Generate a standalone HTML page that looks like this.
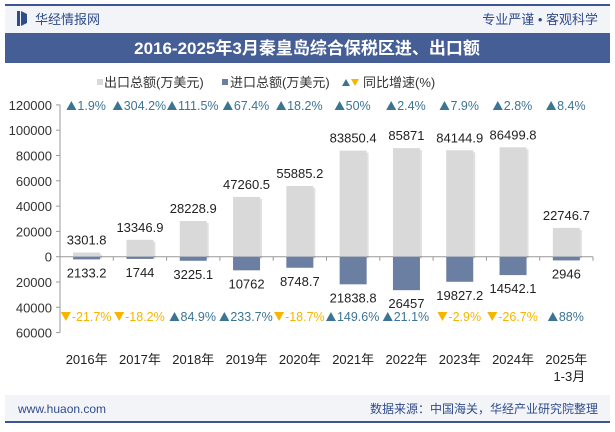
<!DOCTYPE html>
<html><head><meta charset="utf-8"><style>
body{margin:0;width:615px;height:427px;overflow:hidden;background:#fff;font-family:"Liberation Sans","Noto Sans CJK SC",sans-serif}
svg text{font-family:"Liberation Sans","Noto Sans CJK SC",sans-serif}
</style></head><body>
<svg width="615" height="427">
<rect x="5" y="5" width="605" height="28" fill="#f3f4f8"/>
<line x1="5" y1="5" x2="610" y2="5" stroke="#3b5594" stroke-width="2"/>
<rect x="17" y="11" width="3" height="15" fill="#2f4c8c"/>
<path d="M21 11 L27 14 L27 23 L21 26Z" fill="#2f4c8c"/>
<text x="35" y="24" font-size="13" fill="#2f4c8c">华经情报网</text>
<text x="598" y="24" font-size="13" fill="#2f4c8c" text-anchor="end">专业严谨 • 客观科学</text>
<rect x="5" y="33" width="605" height="30" fill="#455e95"/>
<text x="307" y="54" font-size="17" font-weight="bold" fill="#fff" text-anchor="middle" font-family="Liberation Serif,Noto Serif CJK SC,serif">2016-2025年3月秦皇岛综合保税区进、出口额</text>
<g font-size="13" fill="#333">
<rect x="97" y="79" width="6" height="6" fill="#d9d9d9"/>
<text x="104" y="87">出口总额(万美元)</text>
<rect x="222" y="79" width="6" height="6" fill="#6b7fa3"/>
<text x="230" y="87">进口总额(万美元)</text>
<path d="M342 86 L346 79 L350 86Z" fill="#3c7494"/>
<path d="M351 79 L359 79 L355 86Z" fill="#f7b500"/>
<text x="363" y="87">同比增速(%)</text>
</g>
<g id="plot"></g>
<rect x="5" y="395" width="605" height="26" fill="#f3f4f8"/>
<line x1="5" y1="422" x2="610" y2="422" stroke="#3b5594" stroke-width="2"/>
<text x="18" y="413" font-size="12" fill="#2f4c8c">www.huaon.com</text>
<text x="598" y="413" font-size="12" fill="#2f4c8c" text-anchor="end">数据来源：中国海关，华经产业研究院整理</text>
</svg>
<script>
const categories=["2016年","2017年","2018年","2019年","2020年","2021年","2022年","2023年","2024年","2025年"];
const exportVals=[3301.8,13346.9,28228.9,47260.5,55885.2,83850.4,85871,84144.9,86499.8,22746.7];
const importVals=[2133.2,1744,3225.1,10762,8748.7,21838.8,26457,19827.2,14542.1,2946];
const exportGrowth=[1.9,304.2,111.5,67.4,18.2,50,2.4,7.9,2.8,8.4];
const importGrowth=[-21.7,-18.2,84.9,233.7,-18.7,149.6,21.1,-2.9,-26.7,88];
const yTicks=[120000,100000,80000,60000,40000,20000,0,-20000,-40000,-60000];
const NS="http://www.w3.org/2000/svg";
const g=document.getElementById('plot');
const x0=60,x1=593,y0=256.7,ppu=25.3/20000;
const bw=(x1-x0)/categories.length;
const y=v=>y0-v*ppu;
const cx=i=>x0+bw*(i+0.5);
function mk(t,a,txt){const e=document.createElementNS(NS,t);for(const k in a)e.setAttribute(k,a[k]);if(txt!=null)e.textContent=txt;g.appendChild(e);return e;}
let e=mk('line',{x1:x0,y1:y(120000),x2:x0,y2:y(-60000),stroke:'#999'});


yTicks.forEach(t=>{
 let l=mk('line',{x1:x0-4,y1:y(t),x2:x0,y2:y(t),stroke:'#999'});
 
 
 let s=mk('text',{x:x0-8,y:y(t)+5,'font-size':13,fill:'#333','text-anchor':'end'},String(Math.abs(t)));
 
 
});
e=mk('line',{x1:x0,y1:y0,x2:x1,y2:y0,stroke:'#999'});


categories.forEach((c,i)=>{
 const X=cx(i),w=27;
 let t=mk('line',{x1:x0+bw*(i+1),y1:y0,x2:x0+bw*(i+1),y2:y0+4,stroke:'#999'});
 
 
 mk('rect',{x:X-w/2+2,y:y(exportVals[i])+2,width:w,height:exportVals[i]*ppu,fill:'#000',opacity:0.12});
 let b=mk('rect',{x:X-w/2,y:y(exportVals[i]),width:w,height:exportVals[i]*ppu,fill:'#d9d9d9'});
 
 
 let m=mk('rect',{x:X-w/2,y:y0,width:w,height:importVals[i]*ppu,fill:'#6b7fa3'});
 
 
 let el=mk('text',{x:X,y:y(exportVals[i])-8,'font-size':13,fill:'#222','text-anchor':'middle'},String(exportVals[i]));
 
 
 let il=mk('text',{x:X,y:y(-importVals[i])+18,'font-size':13,fill:'#222','text-anchor':'middle'},String(importVals[i]));
 
 
 [[exportGrowth[i],110],[importGrowth[i],321]].forEach(([v,yy])=>{
  const up=v>=0,col=up?'#3c7494':'#f7b500';
  const tx=mk('text',{x:X+5,y:yy,'font-size':12.5,fill:col,'text-anchor':'middle'},v+'%');
  
  
  const tw=tx.getComputedTextLength(),lx=X+5-tw/2-11;
  const tri=mk('path',{d:up?`M${lx} ${yy} L${lx+5} ${yy-9} L${lx+10} ${yy}Z`:`M${lx} ${yy-9} L${lx+10} ${yy-9} L${lx+5} ${yy}Z`,fill:col});
  
  
 });
 let xl=mk('text',{x:X,y:364,'font-size':13,fill:'#222','text-anchor':'middle'},c);
 
 
 if(i==categories.length-1){
  let s=mk('text',{x:X+3,y:381,'font-size':13,fill:'#222','text-anchor':'middle'},'1-3月');
  
  
 }
});
</script>
</body></html>
